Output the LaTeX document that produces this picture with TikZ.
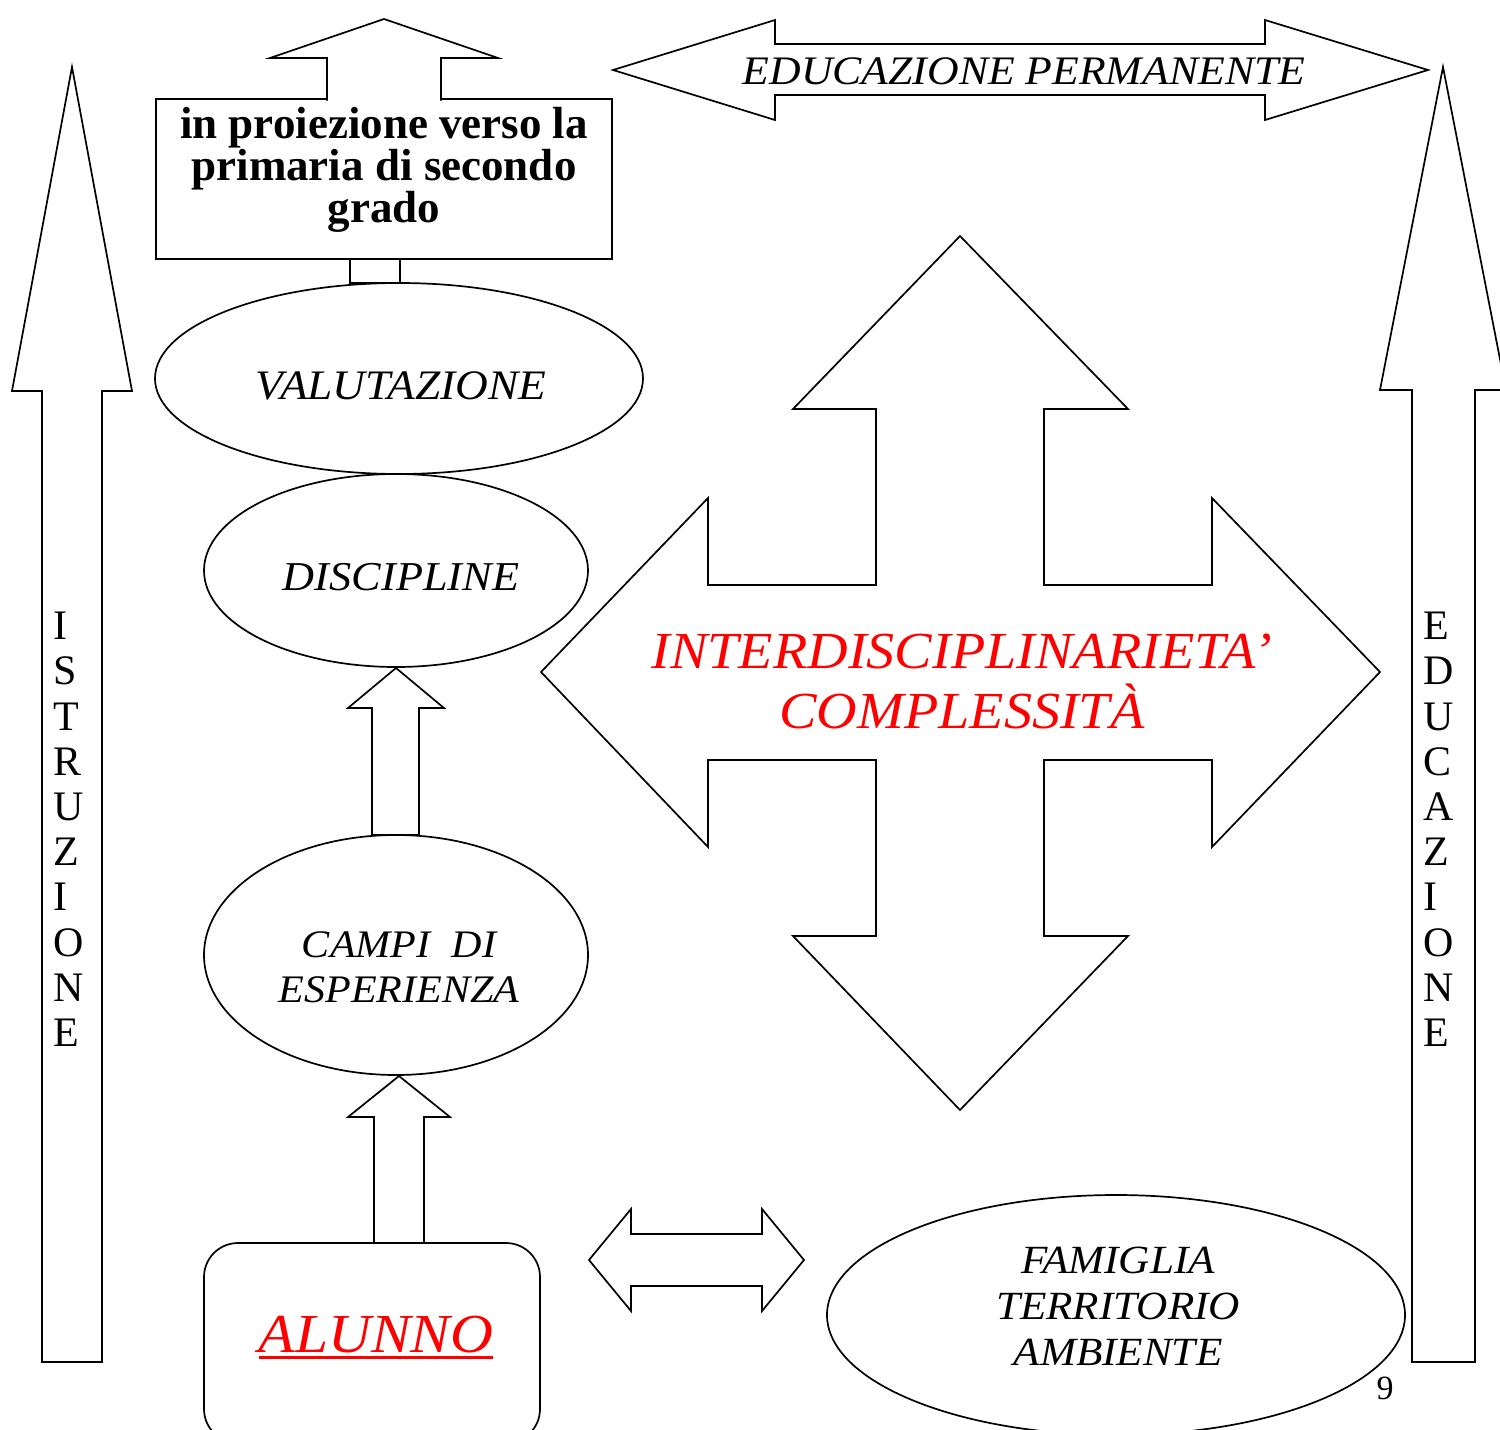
\documentclass[tikz,border=0pt]{standalone}
\usepackage{fontspec}
\setmainfont{Liberation Serif}
\newfontfamily\capit{Liberation Serif}[FakeStretch=1.08]
\usetikzlibrary{shapes.geometric}
\begin{document}
\begin{tikzpicture}[x=1pt,y=-1pt,
  shp/.style={draw=black, line width=1.7pt, fill=white},
  ell/.style={draw=black, line width=1.7pt, ellipse, inner sep=0pt},
  txt/.style={inner sep=0pt, align=center},
  itx/.style={txt, font=\capit\itshape\fontsize{#1}{#1}\selectfont},
]
\useasboundingbox (0,0) rectangle (1500,1430);
\clip (0,0) rectangle (1500,1430);

% ISTRUZIONE arrow (left)
\draw[shp] (72,67) -- (132,391) -- (102,391) -- (102,1362) -- (42,1362) -- (42,391) -- (12,391) -- cycle;
% EDUCAZIONE arrow (right)
\draw[shp] (1443,67) -- (1506,390) -- (1475,390) -- (1475,1362) -- (1412,1362) -- (1412,390) -- (1380,390) -- cycle;

% EDUCAZIONE PERMANENTE double arrow
\draw[shp] (613,70) -- (775,20) -- (775,44) -- (1265,44) -- (1265,20) -- (1428,70) -- (1265,120) -- (1265,95) -- (775,95) -- (775,120) -- cycle;

% box
\node[draw=black, line width=1.7pt, minimum width=456pt, minimum height=160pt, inner sep=0pt] (box) at (384,179) {};
\draw[shp] (327,100.5) -- (327,58) -- (270,58) -- (384,19) -- (498,58) -- (441,58) -- (441,100.5);
\draw[shp] (350,259) rectangle (400,283);

% ellipses
\node[ell, minimum width=488pt, minimum height=191pt] (valutazione) at (399,378.5) {};
\node[ell, minimum width=384pt, minimum height=193pt] (discipline) at (396,570.5) {};
\node[ell, minimum width=384pt, minimum height=240pt] (campi) at (396,955) {};
\node[ell, minimum width=578pt, minimum height=240pt] (famiglia) at (1116,1315) {};

% block arrows on the left column
\draw[shp] (396,668) -- (444,708) -- (419,708) -- (419,835) -- (372,835) -- (372,708) -- (348,708) -- cycle;
\draw[shp] (399,1076) -- (450,1117) -- (424,1117) -- (424,1243) -- (374,1243) -- (374,1117) -- (348,1117) -- cycle;

% ALUNNO box
\node[draw=black, line width=1.7pt, rounded corners=34pt, minimum width=336pt, minimum height=200pt, inner sep=0pt] (alunno) at (372,1343) {};

% horizontal double arrow
\draw[shp] (589,1260) -- (631,1209) -- (631,1234) -- (762,1234) -- (762,1209) -- (804,1260) -- (762,1311) -- (762,1286) -- (631,1286) -- (631,1311) -- cycle;

% four-way arrow
\draw[shp] (960,236) -- (1128,409) -- (1044,409) -- (1044,585) -- (1212,585) -- (1212,498) -- (1380,672) -- (1212,847) -- (1212,760) -- (1044,760) -- (1044,936) -- (1128,936) -- (960,1110) -- (793,936) -- (876,936) -- (876,760) -- (708,760) -- (708,847) -- (541,672) -- (708,498) -- (708,585) -- (876,585) -- (876,409) -- (793,409) -- cycle;

% texts
\node[txt, font=\bfseries\fontsize{45}{41.7}\selectfont] (boxtxt) at (384,170) {in proiezione verso la\\primaria di secondo\\grado};
\node[itx=40.5] (edperm) at (1024,71) {EDUCAZIONE PERMANENTE};
\node[itx=42] (valtxt) at (401,385.5) {VALUTAZIONE};
\node[itx=41] (distxt) at (401,577.5) {DISCIPLINE};
\node[txt, font=\capit\itshape\fontsize{39}{45}\selectfont] (campitxt) at (399,967) {CAMPI\ \ DI\\ESPERIENZA};
\node[txt, font=\capit\itshape\fontsize{40}{46}\selectfont] (famtxt) at (1118,1306) {FAMIGLIA\\TERRITORIO\\AMBIENTE};
\node[txt, text=red, font=\capit\itshape\fontsize{52}{60}\selectfont] (intertxt) at (962,681) {INTERDISCIPLINARIETA’\\COMPLESSITÀ};
\node[itx=55, text=red, anchor=base] (alunnotxt) at (376,1352) {ALUNNO};
\draw[red, line width=3pt] ([yshift=-5pt]alunnotxt.base west) -- ([yshift=-5pt]alunnotxt.base east);

\node[txt, align=left, anchor=north west, font=\fontsize{42}{45.2}\selectfont] (istr) at (53,612) {I\\S\\T\\R\\U\\Z\\I\\O\\N\\E};
\node[txt, align=left, anchor=north west, font=\fontsize{42}{45.2}\selectfont] (educ) at (1423,612) {E\\D\\U\\C\\A\\Z\\I\\O\\N\\E};

\node[txt, font=\fontsize{34}{34}\selectfont] (pagenum) at (1385,1388.5) {9};
\end{tikzpicture}
\end{document}
